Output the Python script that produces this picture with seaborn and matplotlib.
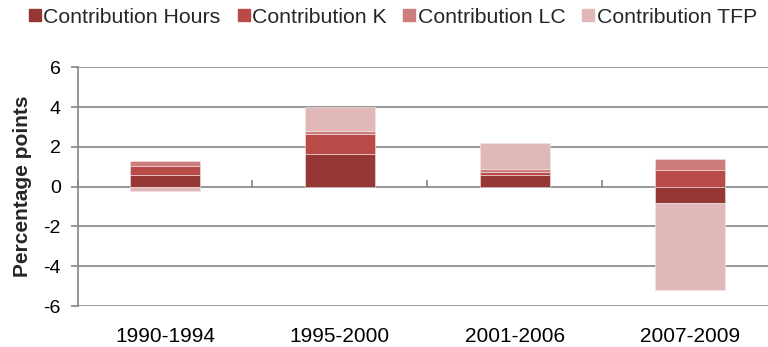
import numpy as np
import pandas as pd
import matplotlib
matplotlib.use("Agg")
import matplotlib.pyplot as plt
from matplotlib.lines import Line2D
import seaborn as sns

periods = ["1990-1994", "1995-2000", "2001-2006", "2007-2009"]
series_names = ["Contribution Hours", "Contribution K", "Contribution LC", "Contribution TFP"]
hours = [0.58, 1.64, 0.60, -0.83]
capital = [0.47, 1.01, 0.12, 0.85]
labour_comp = [0.25, 0.13, 0.18, 0.54]
tfp = [-0.24, 1.25, 1.30, -4.37]
colors = ["#953735", "#B84A48", "#CD7D7C", "#E0B8B8"]
y_ticks = [-6, -4, -2, 0, 2, 4, 6]

sns.set_theme(style="white")
plt.rcParams["font.family"] = ["Liberation Sans", "DejaVu Sans"]
plt.rcParams["axes.unicode_minus"] = False

fig = plt.figure(figsize=(7.68, 3.47), dpi=100)
ax = fig.add_axes([0.101, 0.118, 0.911, 0.688])

# stack positive and negative contributions separately
pos_base = np.zeros(len(periods))
neg_base = np.zeros(len(periods))
for name, vals, col in zip(series_names, [hours, capital, labour_comp, tfp], colors):
    vals = np.asarray(vals, dtype=float)
    bottom = np.where(vals >= 0, pos_base, neg_base)
    df = pd.DataFrame({"period": periods, "value": vals})
    sns.barplot(data=df, x="period", y="value", order=periods, color=col,
                saturation=1, width=0.4, bottom=bottom, errorbar=None,
                edgecolor="#F2E4E4", linewidth=0.4, ax=ax, zorder=3)
    pos_base = pos_base + np.where(vals >= 0, vals, 0)
    neg_base = neg_base + np.where(vals < 0, vals, 0)

grey = "#858585"
ax.set_xlim(-0.5, 3.5)
ax.set_ylim(-6, 6)
ax.set_yticks(y_ticks)
ax.yaxis.grid(True, color=grey, linewidth=1.2, zorder=0)
ax.set_axisbelow(True)
for s in ["top", "right", "bottom"]:
    ax.spines[s].set_visible(False)
ax.spines["left"].set_color(grey)
ax.spines["left"].set_linewidth(1.2)
ax.tick_params(axis="y", direction="out", length=5, width=1.2, color=grey,
               labelsize=14, labelcolor="black", pad=7, left=True)
ax.tick_params(axis="x", length=0, labelsize=15, labelcolor="black", pad=15)
ax.set_xlabel("")
ax.set_ylabel("Percentage points", fontsize=15, fontweight="bold", labelpad=8)

# zero axis with category separator ticks
zero_axis = ax.secondary_xaxis(0.5)
zero_axis.set_xticks([-0.5, 0.5, 1.5, 2.5, 3.5])
zero_axis.set_xticklabels([])
zero_axis.tick_params(direction="out", length=5, width=1.2, color=grey)
zero_axis.spines["bottom"].set_color(grey)
zero_axis.spines["bottom"].set_linewidth(1.2)
for s in ["top", "left", "right"]:
    zero_axis.spines[s].set_visible(False)

handles = [Line2D([0], [0], marker="s", linestyle="none", markersize=8,
                  markerfacecolor=c, markeredgecolor=c) for c in colors]
fig.legend(handles, series_names, loc="center left", bbox_to_anchor=(0.038, 0.951),
           ncol=4, frameon=False, fontsize=15.3, handlelength=0.55, handletextpad=0.12,
           columnspacing=0.8, borderaxespad=0, borderpad=0)

fig.savefig("out.png", dpi=100)
